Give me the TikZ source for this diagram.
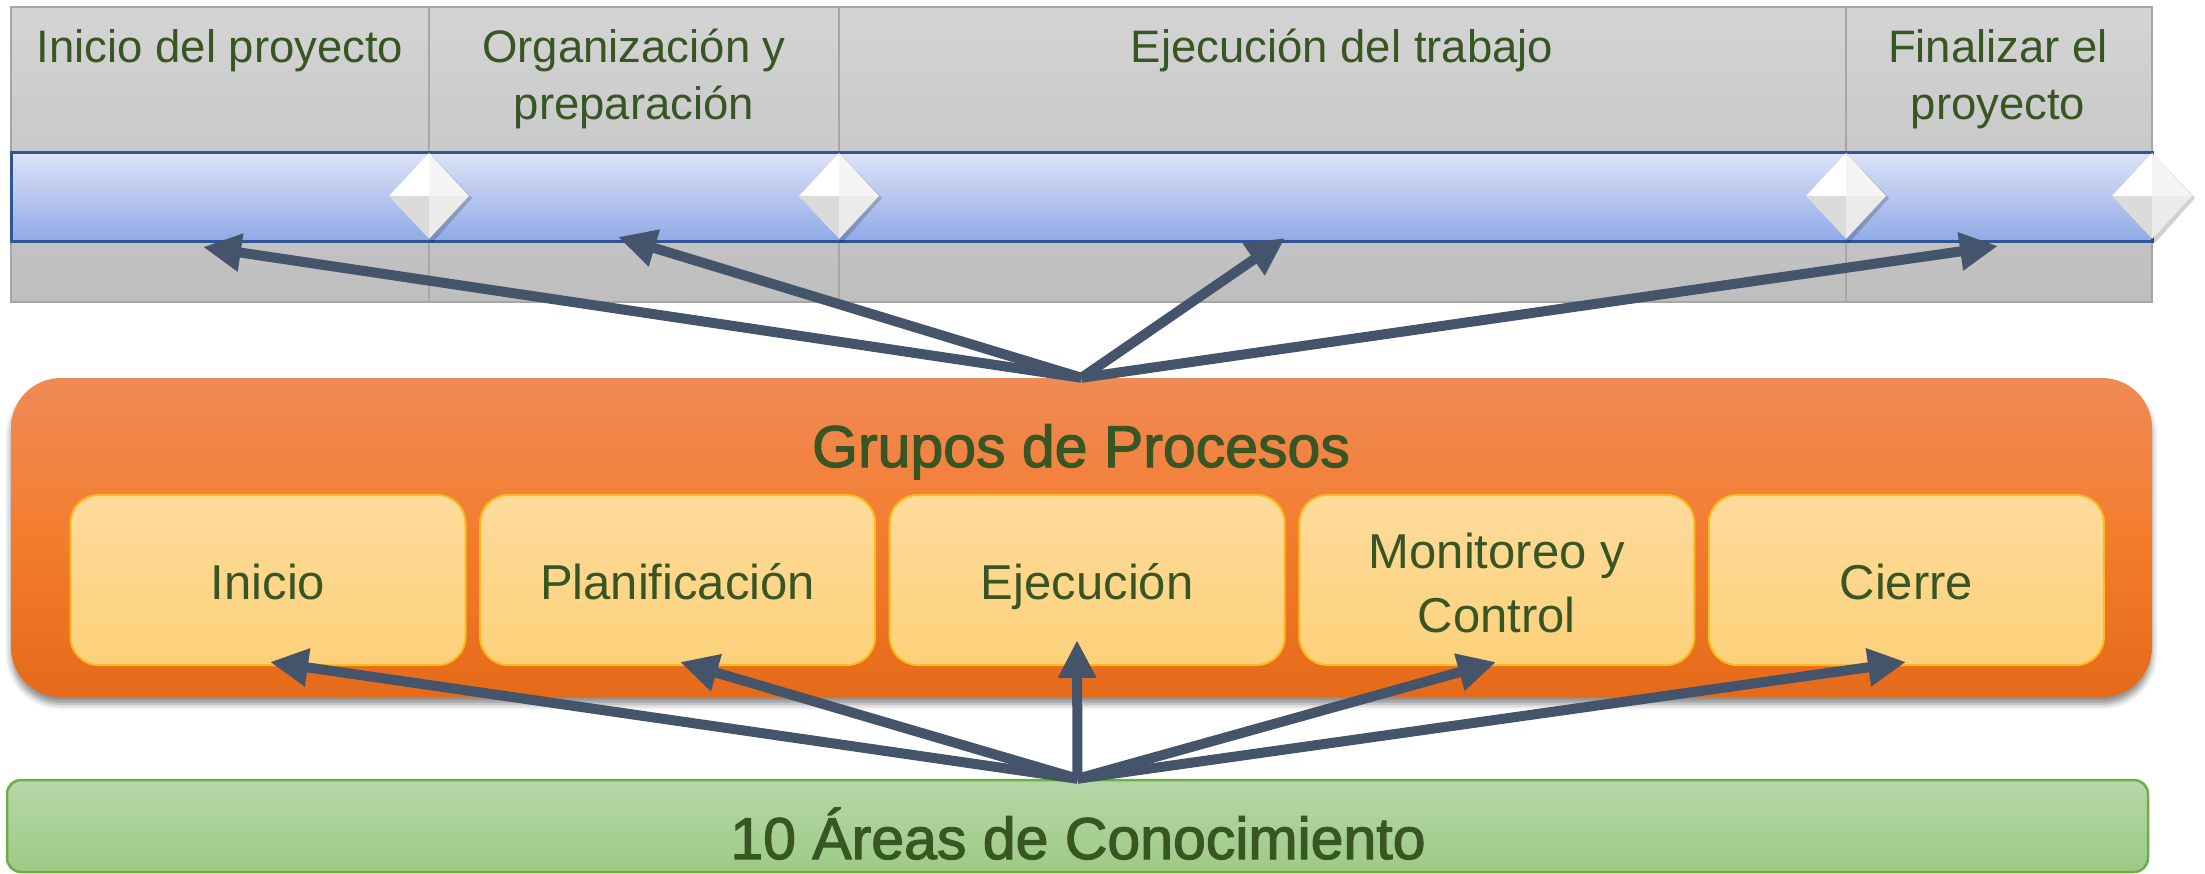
\documentclass[tikz,border=0pt]{standalone}
\usepackage{fontspec}
\setmainfont{Liberation Sans}
\newfontfamily\heavyfont[FakeBold=2.0]{Liberation Sans}
\usetikzlibrary{arrows.meta,shadows.blur,calc}
\definecolor{txtgreen}{HTML}{375623}
\definecolor{arrowc}{HTML}{44546A}
\definecolor{grayborder}{HTML}{A6A6A6}
\definecolor{graytop}{HTML}{D4D4D4}
\definecolor{graybot}{HTML}{BEBEBE}
\definecolor{bluetop}{HTML}{DDE3F7}
\definecolor{bluebot}{HTML}{8FA9E6}
\definecolor{blueborder}{HTML}{2F5597}
\definecolor{orangetop}{HTML}{F08A57}
\definecolor{orangemid}{HTML}{F37D2D}
\definecolor{orangebot}{HTML}{E56A19}
\definecolor{boxtop}{HTML}{FEDB9C}
\definecolor{boxbot}{HTML}{FDD17A}
\definecolor{boxborder}{HTML}{F9BC1C}
\definecolor{greentop}{HTML}{B6D7A8}
\definecolor{greenbot}{HTML}{9DCA86}
\definecolor{greenborder}{HTML}{70AD47}
\tikzset{
  headtxt/.style={text=txtgreen, inner sep=0pt, anchor=base, align=center,
    font=\fontsize{45.5}{57}\selectfont},
  boxtxt/.style={text=txtgreen, inner sep=0pt, anchor=base, align=center,
    font=\fontsize{49}{64}\selectfont},
  bigtxt/.style={text=txtgreen, inner sep=0pt, anchor=base,
    font=\heavyfont\fontsize{59}{70}\selectfont},
  orangebox/.style={rounded corners=50pt, minimum width=2141pt, minimum height=319pt,
    inner sep=0pt, top color=orangetop, bottom color=orangebot, middle color=orangemid,
    blur shadow={shadow xshift=0pt, shadow yshift=-7pt, shadow blur radius=6pt, shadow opacity=45}},
  procbox/.style={rounded corners=28pt, minimum width=395pt, minimum height=170pt,
    inner sep=0pt, draw=boxborder, line width=2pt, top color=boxtop, bottom color=boxbot},
  greenbar/.style={rounded corners=14pt, minimum width=2141pt, minimum height=92pt,
    inner sep=0pt, draw=greenborder, line width=2.5pt, top color=greentop, bottom color=greenbot},
  bluebar/.style={minimum width=2141pt, minimum height=89pt, inner sep=0pt,
    draw=blueborder, line width=3pt, top color=bluetop, bottom color=bluebot},
  arr/.style={draw=arrowc, line width=10pt, -{Triangle[length=38pt,width=36pt]}},
}
\begin{document}
\begin{tikzpicture}[x=1pt,y=-1pt]
\useasboundingbox (0,0) rectangle (2205,874);
% timeline table
\fill[top color=graytop, bottom color=graybot] (11,7) rectangle (2152,302);
\draw[grayborder, line width=1.5pt] (11,7) rectangle (2152,302);
\foreach \cx in {429,839,1846}{
  \draw[grayborder, line width=1.5pt] (\cx,7) -- (\cx,302);
}
\node[bluebar] (bar) at (1081.5,197.5) {};
% milestones
\foreach \cx in {429,839,1846,2152}{
  \fill[black, opacity=0.18] (\cx+3,156) -- (\cx+43,198) -- (\cx+3,243) -- (\cx-37,198) -- cycle;
  \fill[white] (\cx,153) -- (\cx,196) -- (\cx-40,196) -- cycle;
  \fill[black!4] (\cx,153) -- (\cx+40,196) -- (\cx,196) -- cycle;
  \fill[black!14] (\cx-40,196) -- (\cx,196) -- (\cx,239) -- cycle;
  \fill[black!8] (\cx,196) -- (\cx+40,196) -- (\cx,239) -- cycle;
}
% headers (anchor=base is the last line's baseline)
\node[headtxt] (h1) at (220,63) {Inicio del proyecto};
\node[headtxt] (h2) at (634,120) {Organización y\\preparación};
\node[headtxt] (h3) at (1342,63) {Ejecución del trabajo};
\node[headtxt] (h4) at (1998,120) {Finalizar el\\proyecto};
% process groups
\node[orangebox] (gp) at (1081.5,537.5) {};
\node[bigtxt] (gpt) at (1081,467) {Grupos de Procesos};
\node[procbox] (b1) at (268,580) {};
\node[procbox] (b2) at (677.6,580) {};
\node[procbox] (b3) at (1087.2,580) {};
\node[procbox] (b4) at (1496.8,580) {};
\node[procbox] (b5) at (1906.4,580) {};
\node[boxtxt] (l1) at (b1 |- 0,599) {Inicio};
\node[boxtxt] (l2) at (b2 |- 0,599) {Planificación};
\node[boxtxt] (l3) at (b3 |- 0,599) {Ejecución};
\node[boxtxt] (l4) at (b4 |- 0,632) {Monitoreo y\\Control};
\node[boxtxt] (l5) at (b5 |- 0,599) {Cierre};
% knowledge areas
\node[greenbar] (ka) at (1077.5,826) {};
\node[bigtxt] (kat) at (1078,859) {10 Áreas de Conocimiento};
% arrow targets
\coordinate (t1) at (203,247);
\coordinate (t2) at (618,237);
\coordinate (t3) at (1285,238);
\coordinate (t4) at (1998,246);
\coordinate (a1) at (270,662);
\coordinate (a2) at (680,662);
\coordinate (a3) at (1077,640);
\coordinate (a4) at (1496,662);
\coordinate (a5) at (1906,662);
% connectors
\foreach \t in {t1,t2,t3,t4}{ \draw[arr] (gp.north) -- (\t); }
\foreach \t in {a1,a2,a3,a4,a5}{ \draw[arr] (ka.north) -- (\t); }
\end{tikzpicture}
\end{document}
